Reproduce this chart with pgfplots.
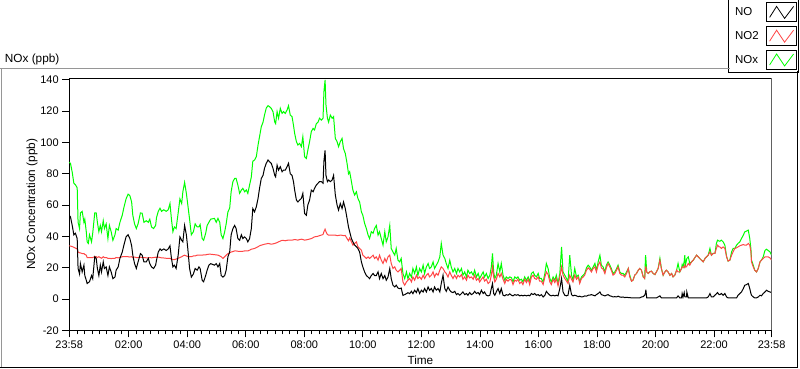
\documentclass[border=0pt]{standalone}
\usepackage{fontspec}
\setmainfont{Liberation Sans}
\usepackage{pgfplots}
\usepackage{pgfplotstable}
\pgfplotsset{compat=1.18}
\definecolor{nored}{RGB}{255,70,70}
\definecolor{nogreen}{RGB}{0,255,0}
\definecolor{panelgray}{RGB}{150,150,150}

\pgfplotstableread{
h no no2 nox
-0.0333 53.5 34 87.3
0.01 52.5 33.8 86.7
0.07 47 33.5 81
0.125 41 33 74
0.18 42 32.5 73
0.24 38.6 32 71
0.27 19.5 30 49
0.32 16 29.5 45
0.35 22.6 29.5 55
0.41 17.3 29 56
0.47 21.6 29 49
0.50 15 28.5 51
0.55 12 28 43
0.58 9.9 26.5 36.5
0.62 10.5 26.5 35.5
0.66 11 26.5 41
0.73 15 26.5 36.5
0.77 13 26.5 42
0.84 27 27 55
0.89 26 27 55
0.93 19.5 26.5 49
0.98 15 27 43
1.03 21.6 26.5 47
1.07 17.3 26 43
1.13 23.7 27 50
1.17 19.5 26.5 45
1.23 20.5 26.5 48
1.29 15 26 38.6
1.34 20.5 26 47
1.40 17.3 25.8 43
1.46 13 26 37.5
1.53 14 26 41
1.57 18.4 26.5 45
1.64 20.5 26.3 44
1.70 26 26.5 49
1.78 30 27 53.5
1.83 34 27 58
1.91 39.7 27 64
1.98 41 27 67
2.04 38.6 26.8 66
2.10 34 27 62
2.14 28 26.5 53.5
2.20 22.6 26.8 48
2.26 19.5 26.5 45
2.32 23.7 26.5 48
2.40 29 26.7 55
2.46 28 26.5 54.8
2.52 23.7 26.5 49
2.60 23.7 26.3 50
2.67 26 26.3 49
2.72 22.6 26.5 51
2.78 20.5 26.3 46
2.85 19.5 26.5 45
2.92 21.6 26.7 47
2.95 24.8 26.5 52
3.01 30 26.8 56
3.07 32 26.5 58
3.12 31 26.3 56
3.20 32 26.2 57
3.28 31 26 56
3.35 32 26 57
3.41 34 26 61
3.46 26 25.5 51
3.51 20.5 25.2 43
3.56 21.6 25.2 46
3.62 19.5 25.5 45
3.69 28 26 55
3.75 39.7 26.5 64
3.81 37.5 27 61
3.85 36.5 27.5 68.5
3.91 47 28 74.5
3.97 41 27.5 67.5
4.02 32 27 60
4.08 19.5 27 51
4.14 14 27 41
4.21 16 27.5 43
4.27 19.5 27.5 48
4.34 18.4 28 46
4.40 20.5 28 46
4.44 19.5 28 47.6
4.51 12 28 38.6
4.56 11 28.2 37.5
4.63 15 28.2 42
4.68 18.4 28.5 47
4.74 21.6 28.6 49
4.80 22.6 28.6 51
4.93 21.6 28.3 51.5
4.99 22.6 28.2 49
5.05 20.5 28 51.5
5.11 22.6 27.5 49
5.16 15 27 41
5.22 14 25.9 38.6
5.28 15 27 43
5.33 18.4 28 48
5.39 27 29 55.7
5.45 30 29.5 58
5.50 41 30 68.5
5.56 45 30.3 75
5.62 47 30.7 77
5.67 45 30.7 77
5.73 38.6 30.5 72.8
5.79 37.5 30.5 67.5
5.85 41 30.5 69.6
5.90 38.6 30.5 70.7
5.96 39.7 30.7 68.5
6.02 38.6 30.7 69.6
6.07 36.5 30.7 67.5
6.13 38.6 31.2 72.8
6.19 45 31.8 78
6.24 57.8 32 88
6.30 55.7 32.3 88.8
6.36 58.9 32.8 90.9
6.42 64.3 33.4 98.4
6.47 70.7 34 103.7
6.53 77 34.4 110
6.59 79 34.7 113
6.64 83.5 35 117.5
6.70 86.7 35.2 122
6.76 88.8 35.5 123.5
6.81 87.7 35.3 122.9
6.87 86.7 35 121.8
6.93 83.5 35.2 119.7
6.99 79 35.5 113
7.02 78 35.7 112
7.07 85.5 36 119.7
7.12 82.3 36.5 115.5
7.18 84.5 37 121.8
7.24 81.3 37.5 118.6
7.29 82.3 37.4 119.7
7.35 82.3 37.2 118.6
7.41 84.5 37.5 120.7
7.46 86.7 37.6 123.5
7.52 80 37.6 117.5
7.58 79 37.6 116.5
7.63 75 37.8 111
7.67 69.6 38 105.8
7.73 63.2 37.8 100.5
7.78 62 37.6 98.4
7.84 63.2 38 99.4
7.90 64.3 38.2 97.3
7.95 67.5 38 103.7
8.01 54.6 37.6 90.9
8.07 53.5 37.8 89.8
8.12 60 38 95
8.18 63.2 38.3 100.5
8.24 69.6 38.6 107
8.30 68.5 39.2 109
8.35 70.7 39.7 108
8.41 72.8 39.9 112
8.47 74 40.1 113
8.52 75 40.5 115.5
8.58 75 40.8 114.3
8.64 74 41.2 115.5
8.67 88 43 132.5
8.71 95 44.6 140
8.74 79 43 124
8.79 75 41.2 115.5
8.83 76 40.8 113
8.89 75 40.8 117.5
8.95 76 40.8 115.5
9.00 79 40.8 116.5
9.06 66.4 40.8 102.6
9.12 60 40.5 100.5
9.17 56.8 40.6 97.3
9.23 61 40.8 100.5
9.29 57.8 40.7 102.6
9.34 62 40.5 96
9.40 57.8 40.6 93
9.46 51.5 38.6 86.7
9.51 46 37.2 80
9.55 43 39 81.3
9.61 38.6 36.5 75
9.66 36.5 34.4 69.6
9.72 34.4 35.5 66.4
9.78 33.4 36.5 68.5
9.83 32.3 33.4 64.3
9.89 30 32.3 62
9.95 23.7 31.2 55.7
10.00 20.5 28 53.5
10.06 17.3 27 48.3
10.12 15 25.9 45
10.18 14 26.9 40.8
10.23 13 25.9 38.6
10.29 15 26.9 43
10.35 16.3 28 42
10.40 15 25.9 45
10.46 15 26.9 47
10.52 17.3 24.8 40.8
10.57 13 28 43
10.63 16.3 24.8 38.6
10.69 13 22.7 34.4
10.75 15 25.9 43
10.80 12 23.7 36.5
10.86 14 26.9 39.7
10.92 19.5 28 47
10.97 13 22.7 32.3
11.03 8.8 19.5 30
11.09 7.7 20.5 28
11.14 8.8 18.4 32.3
11.20 7 17.3 24.8
11.26 6.6 18.4 23.7
11.31 7 19.5 25.9
11.37 2.3 10.9 16.3
11.43 2.8 8.8 13
11.49 3.4 10.9 17.3
11.54 4 12 13
11.60 3.4 13.1 16.3
11.66 4.9 10.9 14
11.71 3.4 14.1 19.5
11.77 5.6 12 16.3
11.83 4.1 15.2 20.5
11.88 6.7 13.1 15
11.94 3.5 14.1 19.5
12.00 5.6 12.6 17.3
12.06 4.5 15.2 21.6
12.11 6.7 13.1 16.3
12.17 4.5 15.2 20.5
12.23 7.7 16.3 22.7
12.28 5.6 14.1 19.5
12.34 6.7 15.2 20.5
12.40 4.5 17.3 23.7
12.45 7.7 14.1 19.5
12.51 5.6 16.3 21.6
12.57 6.7 15.2 23.7
12.63 4.5 18.4 27
12.68 9.9 20.5 35.5
12.74 15.2 19.5 28
12.80 6.7 17.3 25.9
12.85 4.9 16.3 22.7
12.91 7.7 14.1 19.5
12.97 5.6 17.3 24.8
13.02 4.5 15.2 20.5
13.08 4.1 13.1 17.3
13.14 4.9 15.2 19.5
13.20 2.8 13.1 16.3
13.25 3.5 15.2 19.5
13.31 2.4 14.1 17.3
13.37 3.5 15.6 19.5
13.42 4.5 12.6 15.2
13.48 2.8 14.1 17.3
13.54 3.5 12 14.1
13.59 2.4 15.2 18.4
13.65 4.1 13.5 16.3
13.71 2.8 14.1 17.3
13.77 3.5 12.6 15.2
13.82 4.9 15.2 18.4
13.88 3.5 12 14.1
13.94 4.1 13.1 16.3
13.99 2.8 10.9 13.1
14.05 5.6 12.6 15.2
14.11 3.5 14.1 17.3
14.16 4.5 11.4 14.1
14.22 2.4 12.6 16.3
14.28 2.0 9.9 13.1
14.34 2.4 10.9 15.2
14.39 6.7 15.2 20.5
14.43 9.9 20.5 29.1
14.47 3.5 14.1 17.3
14.51 2.4 10.9 13.1
14.56 4.5 12.6 15.2
14.62 6.7 16.3 22.7
14.68 3.5 14.1 17.3
14.73 6.7 16.3 22.7
14.79 2.4 12.6 15.2
14.85 2.0 9.9 12.0
14.90 2.8 12.6 14.1
14.96 2.4 11.4 13.1
15.02 3.3 12.6 14.1
15.08 2.4 12.0 13.6
15.13 2.0 9.2 10.9
15.19 2.8 12.0 14.1
15.25 2.4 11.4 13.1
15.30 2.8 12.6 14.1
15.36 2.0 9.9 12.0
15.42 2.4 10.9 12.6
15.47 2.0 9.2 10.9
15.53 2.4 12.6 14.1
15.59 2.0 10.5 12.0
15.65 2.4 12.6 14.1
15.70 2.0 9.2 10.9
15.76 3.5 14.1 16.3
15.82 2.8 15.2 17.3
15.87 3.5 13.1 15.2
15.93 2.4 12.6 14.1
15.99 2.8 14.1 16.3
16.04 2.0 11.4 13.1
16.10 2.8 11.4 13.1
16.16 1.3 9.2 10.9
16.22 2.4 14.1 16.3
16.27 4.9 17.3 22.7
16.33 3.5 15.6 19.5
16.39 2.4 10.9 13.1
16.44 2.0 9.2 10.9
16.50 2.4 12.6 14.1
16.56 2.0 10.5 12.0
16.61 2.4 13.1 15.2
16.67 2.0 8.4 9.9
16.73 6.7 14.1 16.3
16.79 13.1 20.5 33.3
16.84 4.5 15.2 17.3
16.90 2.4 13.1 15.2
16.96 2.0 11.4 13.1
17.01 2.4 9.9 10.9
17.07 8.8 15.2 28.0
17.13 2.8 12.6 15.2
17.18 2.0 10.9 12.0
17.24 2.4 15.2 19.5
17.30 2.0 12.6 14.1
17.36 1.5 14.1 15.2
17.41 1.8 9.9 10.9
17.47 1.3 13.1 14.1
17.53 1.5 14.1 15.2
17.58 2.0 15.2 16.3
17.64 1.8 18.4 19.9
17.70 2.4 19.9 21.6
17.75 2.4 19.0 20.5
17.81 2.8 17.3 18.4
17.87 2.4 19.5 20.5
17.93 2.0 20.5 22.7
17.98 2.8 17.3 18.4
18.04 3.5 21.6 23.7
18.10 4.5 23.7 28.0
18.15 2.8 19.9 21.6
18.21 2.4 19.0 20.5
18.27 2.0 16.3 17.3
18.32 2.4 19.9 21.6
18.38 2.8 22.7 23.7
18.44 2.0 20.5 21.6
18.49 1.8 18.4 19.5
18.55 1.3 15.2 16.3
18.61 1.5 16.3 17.3
18.67 1.3 18.4 19.5
18.72 1.8 20.5 21.6
18.78 1.3 16.3 17.3
18.84 1.1 15.2 16.3
18.89 1.3 15.2 16.3
18.95 0.9 14.1 15.2
19.01 1.1 16.3 17.3
19.07 0.9 19.5 19.5
19.12 0.9 14.1 15.2
19.18 0.7 11.4 11.4
19.23 0.7 12.0 12.0
19.29 0.7 15.2 15.2
19.35 0.7 16.3 16.3
19.41 0.7 18.4 18.4
19.46 0.7 19.5 19.5
19.52 1.3 18.4 18.4
19.58 1.5 14.1 14.1
19.63 2.4 13.1 13.1
19.66 4.0 20.5 28.0
19.67 6.0 20.5 26
19.70 0.7 17.3 17.3
19.75 0.7 16.3 16.3
19.80 0.7 17.3 17.3
19.86 0.7 17.8 17.8
19.92 0.7 16.3 16.3
19.98 0.7 15.6 15.6
20.03 0.7 17.3 17.3
20.09 1.3 19.5 19.5
20.15 2.0 24.8 26.0
20.20 0.7 19.5 19.5
20.26 0.7 15.2 15.2
20.32 0.7 17.3 17.3
20.37 0.7 18.4 18.4
20.43 0.7 17.3 17.3
20.49 0.7 15.2 15.2
20.55 0.7 16.3 16.3
20.60 0.7 14.1 14.1
20.66 0.7 15.2 15.2
20.72 0.7 18.4 18.4
20.77 2.0 17.3 22.7
20.83 0.7 17.3 17.3
20.89 0.7 19.5 19.5
20.91 3.5 20.5 22
20.94 1.3 20.5 20.5
20.98 4.1 20 24
21.00 1.5 21.6 28.0
21.02 1.3 20.5 21.6
21.06 1.3 20.5 24.8
21.07 4.5 21 25.9
21.12 0.7 22.7 26.9
21.17 0.7 21.6 22.7
21.23 0.7 23.7 23.7
21.29 0.7 24.8 24.8
21.34 0.7 26.3 26.3
21.40 0.7 28.0 28.0
21.46 0.7 26.9 26.9
21.51 0.7 25.9 25.9
21.57 0.7 24.8 24.8
21.63 0.7 23.7 23.7
21.69 0.7 25.9 25.9
21.74 0.7 26.9 26.9
21.80 1.3 28.0 28.0
21.86 3.5 30.1 32.3
21.91 1.3 28.0 28.0
21.97 1.3 29.1 29.1
22.03 2.4 29.1 29.1
22.08 3.3 32.3 35.5
22.12 4.1 34.4 37.6
22.17 2.8 33.3 37
22.20 2.8 33.3 36.9
22.25 3.5 32.3 37.6
22.31 2.4 33.3 36.5
22.37 3.5 32.3 34.4
22.43 1.3 26.9 26.9
22.48 0.7 24.2 24.2
22.54 0.7 24.8 24.8
22.60 0.7 28.0 30.1
22.65 0.7 30.1 32.3
22.71 0.7 32.3 32.3
22.77 0.7 32.7 34.4
22.82 2.4 33.3 35.5
22.88 3.5 34 36.5
22.94 4.5 34.4 38.7
23.00 6.7 34.8 40.8
23.05 8.8 34.4 42.9
23.11 9.2 34.4 43.4
23.17 9.9 35.5 44.0
23.22 6.7 34.4 38.7
23.26 3.5 30.1 32
23.28 2.4 23.7 24.8
23.34 1.3 20.5 21.6
23.39 0.7 18.4 18.4
23.45 0.7 17.3 17.3
23.51 1.3 19.5 19.5
23.57 2.4 23.7 23.7
23.62 2.0 24.8 24.8
23.68 3.5 25.9 27
23.74 4.5 26.9 31
23.79 5.6 26.9 31.8
23.85 4.9 26.9 31.0
23.91 4.5 26.3 30.1
23.9667 4.1 24.8 28.0
}\datatable

\begin{document}
\begin{tikzpicture}
\begin{axis}[
  at={(69.2pt,38.7pt)}, anchor=south west,
  scale only axis, width=702.4pt, height=252pt,
  xmin=-0.0333, xmax=23.9667, ymin=-20, ymax=141,
  xtick={-0.0333,2,4,6,8,10,12,14,16,18,20,22,23.9667},
  xticklabels={23:58,02:00,04:00,06:00,08:00,10:00,12:00,14:00,16:00,18:00,20:00,22:00,23:58},
  minor xtick={0.25,0.5,...,23.75},
  ytick={-20,0,20,40,60,80,100,120,140},
  yticklabels={-20,0,20,40,60,80,100,120,140},
  tick align=outside, xtick pos=bottom, ytick pos=left,
  major tick length=7pt, minor tick length=4pt,
  every tick/.style={black, line width=0.8pt},
  axis line style={black, line width=1pt},
  tick label style={font=\fontsize{11}{13}\selectfont, text=black},
  label style={font=\fontsize{11.8}{14}\selectfont},
  xlabel={Time}, ylabel={NOx Concentration (ppb)},
  xlabel style={at={(rel axis cs:0.5,0)}, anchor=base, yshift=-33.7pt},
  ylabel style={at={(rel axis cs:0,0.5)}, anchor=base, yshift=34.2pt},
  reverse legend,
  legend plot pos=right,
  legend cell align=left,
  legend image code/.code={
    \draw[black, line width=0.8pt, fill=white] (0pt,-9.5pt) rectangle (30pt,9.5pt);
    \draw[#1, line width=0.8pt] (3pt,-5pt) -- (10pt,6pt) -- (18pt,-6pt) -- (27pt,6pt);
  },
  legend style={at={(rel axis cs:1.0397,1.3147)}, anchor=north east,
    draw=black, line width=1pt, inner xsep=2pt, inner ysep=3pt,
    row sep=4pt, column sep=7.4pt,
    nodes={inner sep=0pt}, font=\fontsize{11.5}{13}\selectfont},
]
\addplot[nogreen, line width=1pt] table[x=h, y=nox]{\datatable};
\addlegendentry{\hspace*{5pt}NOx}
\addplot[nored, line width=1pt] table[x=h, y=no2]{\datatable};
\addlegendentry{\hspace*{5pt}NO2}
\addplot[black, line width=1pt] table[x=h, y=no]{\datatable};
\addlegendentry{\hspace*{5pt}NO}
\draw[panelgray, line width=1pt] (rel axis cs:1,0) -- (rel axis cs:1,1);
\end{axis}
% panel frame
\draw[panelgray, line width=1pt] (0pt,300pt) -- (730pt,300pt);
\draw[panelgray, line width=1pt] (1pt,300pt) -- (1pt,1pt);
\draw[black, line width=1pt] (0pt,1.5pt) -- (797.5pt,1.5pt) -- (797.5pt,298pt);
\node[anchor=base west, inner sep=0pt, font=\fontsize{11.8}{14}\selectfont] at (4.7pt,306.3pt) {NOx (ppb)};
\pgfresetboundingbox
\path[use as bounding box] (0pt,0pt) rectangle (800pt,369pt);
\end{tikzpicture}
\end{document}
